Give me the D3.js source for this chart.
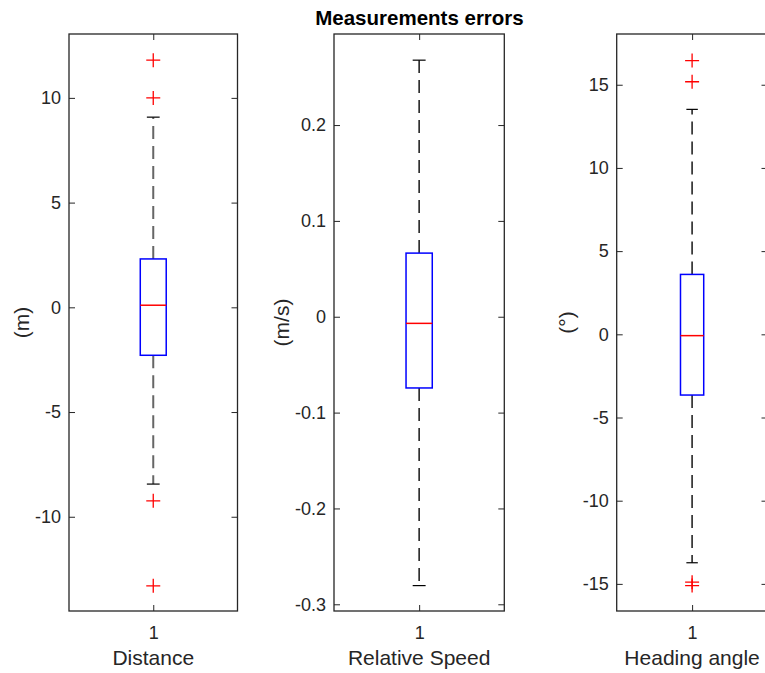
<!DOCTYPE html>
<html>
<head>
<meta charset="utf-8">
<script src="https://cdn.jsdelivr.net/npm/d3@7"></script>
<style>
  html, body { margin: 0; padding: 0; background: #fff; }
  svg { display: block; font-family: "Liberation Sans", Arial, Helvetica, sans-serif; }
</style>
</head>
<body>
<svg id="chart" width="765" height="673"></svg>
<script>
// ---- data ----
const title = "Measurements errors";
const categories = ["Distance", "Relative Speed", "Heading angle"];
const units = ["(m)", "(m/s)", "(°)"];
const whiskerLow  = [-8.44, -0.2805, -13.73];
const q1          = [-2.29, -0.0743, -3.65];
const medians     = [0.10, -0.0069, -0.08];
const q3          = [2.31, 0.0664, 3.60];
const whiskerHigh = [9.08, 0.2677, 13.52];
const outliers = [
  [11.8, 10.0, -9.24, -13.3],
  [],
  [16.45, 15.18, -14.9, -15.1]
];
const yDomains = [[-14.5, 13.05], [-0.307, 0.295], [-16.63, 18.05]];
const yTicks = [
  [-10, -5, 0, 5, 10],
  [-0.3, -0.2, -0.1, 0, 0.1, 0.2],
  [-15, -10, -5, 0, 5, 10, 15]
];
const xTickLabels = ["1"];

// ---- layout ----
const panels = [
  { left: 69, right: 237.5, ylabX: 21, whisk: "#666", whiskW: 2 },
  { left: 334, right: 504.3, ylabX: 281, whisk: "#262626", whiskW: 1.6 },
  { left: 616.7, right: 767.5, ylabX: 566, whisk: "#262626", whiskW: 1.6 }
];
const plotTop = 34, plotBottom = 611;
const axisColor = "#262626";
const tickLen = 6;
const boxHalf = 0.077, capHalf = 0.038;

const svg = d3.select("#chart");

svg.append("text")
  .attr("x", 419.5).attr("y", 25)
  .attr("text-anchor", "middle")
  .attr("font-weight", "bold")
  .attr("font-size", 20.5)
  .attr("fill", "#000")
  .text(title);

const fmt = d => String(Math.round(d * 100) / 100);

panels.forEach((p, i) => {
  const x = d3.scaleLinear().domain([0.5, 1.5]).range([p.left, p.right]);
  const y = d3.scaleLinear().domain(yDomains[i]).range([plotBottom, plotTop]);
  const g = svg.append("g");

  // axes
  const yl = g.append("g").attr("transform", `translate(${p.left},0)`)
    .call(d3.axisLeft(y).tickValues(yTicks[i]).tickFormat(fmt).tickSizeInner(-tickLen).tickSizeOuter(0).tickPadding(8));
  const yr = g.append("g").attr("transform", `translate(${p.right},0)`)
    .call(d3.axisRight(y).tickValues(yTicks[i]).tickFormat("").tickSizeInner(-tickLen).tickSizeOuter(0));
  const xb = g.append("g").attr("transform", `translate(0,${plotBottom})`)
    .call(d3.axisBottom(x).tickValues([1]).tickFormat((d, k) => xTickLabels[k]).tickSizeInner(-tickLen).tickSizeOuter(0).tickPadding(15));
  const xt = g.append("g").attr("transform", `translate(0,${plotTop})`)
    .call(d3.axisTop(x).tickValues([1]).tickFormat("").tickSizeInner(-tickLen).tickSizeOuter(0));
  [yl, yr, xb, xt].forEach(a => {
    a.select(".domain").remove();
    a.selectAll("line").attr("stroke", axisColor).attr("stroke-width", 1);
    a.selectAll("text").attr("fill", axisColor).attr("font-size", 18)
      .attr("font-family", '"Liberation Sans", Arial, Helvetica, sans-serif');
  });
  g.append("rect")
    .attr("x", p.left).attr("y", plotTop)
    .attr("width", p.right - p.left).attr("height", plotBottom - plotTop)
    .attr("fill", "none").attr("stroke", axisColor).attr("stroke-width", 1.3);

  // labels
  g.append("text")
    .attr("x", x(1)).attr("y", 665)
    .attr("text-anchor", "middle").attr("font-size", 21).attr("fill", axisColor)
    .text(categories[i]);
  g.append("text")
    .attr("transform", `translate(${p.ylabX},${(plotTop + plotBottom) / 2}) rotate(-90)`)
    .attr("text-anchor", "middle").attr("dominant-baseline", "central")
    .attr("font-size", 21).attr("fill", axisColor)
    .text(units[i]);

  // whiskers
  g.append("line").attr("x1", x(1)).attr("x2", x(1))
    .attr("y1", y(q3[i])).attr("y2", y(whiskerHigh[i]))
    .attr("stroke", p.whisk).attr("stroke-width", p.whiskW).attr("stroke-dasharray", "13,7");
  g.append("line").attr("x1", x(1)).attr("x2", x(1))
    .attr("y1", y(q1[i])).attr("y2", y(whiskerLow[i]))
    .attr("stroke", p.whisk).attr("stroke-width", p.whiskW).attr("stroke-dasharray", "13,7");
  [whiskerHigh[i], whiskerLow[i]].forEach(v => {
    g.append("line").attr("x1", x(1 - capHalf)).attr("x2", x(1 + capHalf))
      .attr("y1", y(v)).attr("y2", y(v))
      .attr("stroke", "#000").attr("stroke-width", 1.2);
  });

  // box
  g.append("rect")
    .attr("x", x(1 - boxHalf)).attr("y", y(q3[i]))
    .attr("width", x(1 + boxHalf) - x(1 - boxHalf))
    .attr("height", y(q1[i]) - y(q3[i]))
    .attr("fill", "none").attr("stroke", "#0000ff").attr("stroke-width", 1.5);
  g.append("line")
    .attr("x1", x(1 - boxHalf)).attr("x2", x(1 + boxHalf))
    .attr("y1", y(medians[i])).attr("y2", y(medians[i]))
    .attr("stroke", "#ff0000").attr("stroke-width", 1.5);

  // outliers
  const s = 7;
  outliers[i].forEach(v => {
    const cx = x(1), cy = y(v);
    g.append("path")
      .attr("d", `M${cx - s},${cy}H${cx + s}M${cx},${cy - s}V${cy + s}`)
      .attr("stroke", "#ff0000").attr("stroke-width", 1.3).attr("fill", "none");
  });
});
</script>
</body>
</html>
